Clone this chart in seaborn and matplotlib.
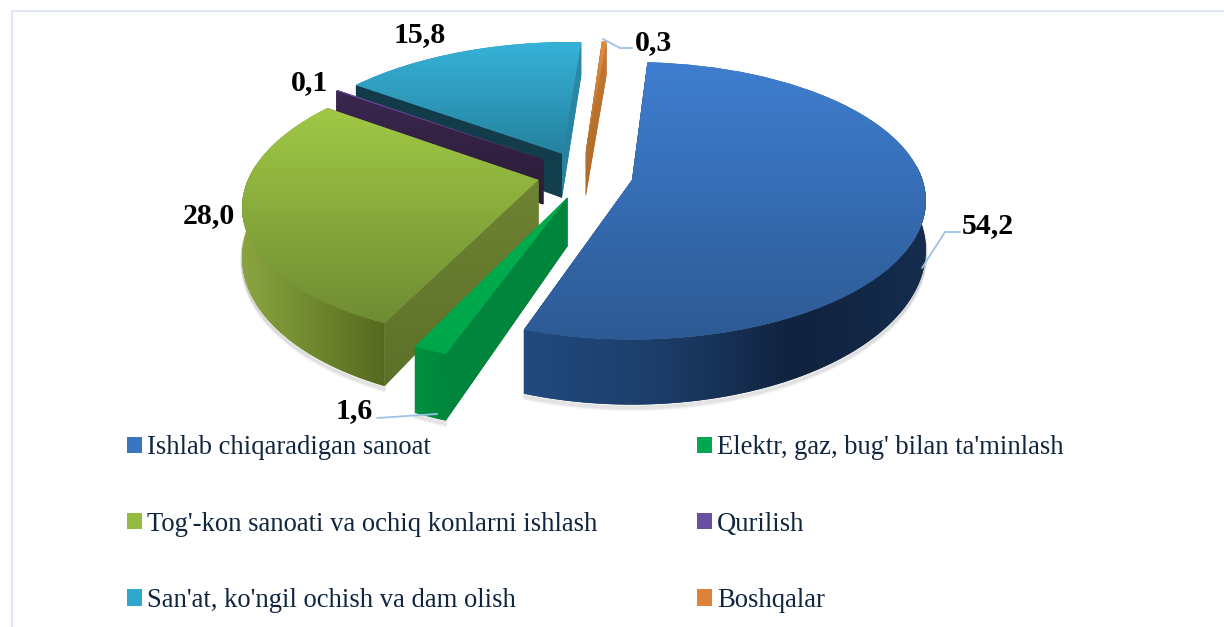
import numpy as np
import matplotlib
matplotlib.use("Agg")
import matplotlib.pyplot as plt
import seaborn as sns
from matplotlib.patches import Patch, PathPatch
from matplotlib.path import Path
from matplotlib.transforms import Transform

# ---- data
categories = ["Ishlab chiqaradigan sanoat", "Elektr, gaz, bug' bilan ta'minlash",
              "Tog'-kon sanoati va ochiq konlarni ishlash", "Qurilish",
              "San'at, ko'ngil ochish va dam olish", "Boshqalar"]
shares = [54.2, 1.6, 28.0, 0.1, 15.8, 0.3]

# ---- styling
top_colors = [("#3F7ED0", "#2D5A94"), ("#00AE4F", "#00A64B"), ("#A0C845", "#6F8C33"),
              ("#6A4FA0", "#6A4FA0"), ("#36B2D8", "#25829F"), ("#E38A3E", "#B8702E")]
legend_colors = ["#3A75C0", "#00A850", "#93BB42", "#6A4FA0", "#2FA6CB", "#DD8238"]
arc_colors = [["#214A7E", "#1C3D69", "#10233F", "#152C4D"], ["#00923F", "#00863D"],
              ["#8AA53F", "#70882F", "#56691F"], ["#2F1F3C", "#2F1F3C"],
              ["#2A88A8", "#1F6F8A"], ["#C07530", "#B06A2A"]]
# colours of the two cut faces of each slice: lower-angle edge, higher-angle edge
face_low = [("#214A7E", "#214A7E"), ("#00853D", "#00853C"), ("#6E8433", "#6E8433"),
            ("#3A2750", "#2B1C36"), ("#2C8AAA", "#26809E"), ("#C27833", "#B06A2A")]
face_high = [("#214A7E", "#214A7E"), ("#00853D", "#00853C"), ("#6E8433", "#5C7028"),
             ("#3A2750", "#2B1C36"), ("#123A48", "#14404F"), ("#C27833", "#B06A2A")]
offsets = [(0, 0), (-65, -38), (-96, 0), (-93, 46), (-74, 60), (-49, 62)]
label_pos = [(988, 226), (354, 411), (209, 216), (310, 83), (420, 35), (654, 43)]
leaders = {0: [(922, 268), (945, 232), (960, 232)],
           1: [(437, 414), (377, 418)],
           5: [(603, 39), (620, 48), (632, 48)]}
draw_order = [5, 4, 3, 2, 1, 0]
R, K, P, S, DEPTH = 298.0, 0.455, 0.15, 0.975, 47.0
X0, Y0 = 632.0, 180.0

sns.set_theme(style="white")
plt.rcParams["font.family"] = ["Liberation Serif", "DejaVu Serif"]

fig = plt.figure(figsize=(12.24, 6.27), dpi=100)
ax = fig.add_axes([0, 0, 1, 1])


class Persp(Transform):
    input_dims = output_dims = 2

    def transform_non_affine(self, uv):
        uv = np.asarray(uv, float).reshape(-1, 2)
        den = 1 + P * uv[:, 1] / R
        return np.column_stack((X0 + S * uv[:, 0] / den, Y0 - K * uv[:, 1] / den))


persp = Persp()


def page(uv):
    return persp.transform_non_affine(uv)


def depth_of(uv):
    den = 1 + P * np.asarray(uv)[:, 1] / R
    return DEPTH / den ** 2


def shade(patch, pts, colors, z, horizontal):
    cmap = sns.blend_palette(list(colors), n_colors=128, as_cmap=True)
    grad = np.linspace(0, 1, 128)
    grad = grad[None, :] if horizontal else grad[:, None]
    x0, y0 = pts.min(axis=0)
    x1, y1 = pts.max(axis=0)
    im = ax.imshow(grad, cmap=cmap, extent=(x0, x1, y1, y0), aspect="auto",
                   interpolation="bilinear", zorder=z + 0.1)
    im.set_clip_path(patch)


def fill(pts, colors, z, horizontal=False):
    pts = np.asarray(pts)
    patch = PathPatch(Path(np.vstack((pts, pts[:1])), closed=True),
                      fc=colors[len(colors) // 2], ec="none", lw=0,
                      transform=ax.transData, zorder=z)
    ax.add_patch(patch)
    shade(patch, pts, colors, z, horizontal)


wedges, _ = ax.pie(shares, startangle=86.5, counterclock=False, radius=R, center=(0, 0),
                   colors=[c[1] for c in top_colors],
                   wedgeprops={"linewidth": 0, "edgecolor": "none"})
ax.set_aspect("auto")
ax.autoscale(False)

for rank, i in enumerate(draw_order):
    w = wedges[i]
    w.set_center(offsets[i])
    w.set_transform(persp + ax.transData)
    base = 10 + rank * 2
    cx, cy = offsets[i]
    th = np.radians(np.linspace(w.theta1, w.theta2, 120))
    arc = np.column_stack((cx + R * np.cos(th), cy + R * np.sin(th)))
    apex = np.array([[cx, cy]])
    arc_top = page(arc)
    arc_bot = arc_top + np.column_stack((np.zeros(len(arc)), depth_of(arc)))
    apex_top = page(apex)
    apex_bot = apex_top + np.array([[0, depth_of(apex)[0]]])

    # only the part of the outer wall that faces the viewer
    front = np.sin(th) < 0.12

    # soft shadow beneath the solid
    if front.any():
        for off in range(1, 6):
            ax.plot(arc_bot[front, 0], arc_bot[front, 1] + off, color="k", alpha=0.045, lw=2,
                    zorder=base - 0.5, solid_capstyle="round")

    # cut faces
    fill([apex_top[0], arc_top[0], arc_bot[0], apex_bot[0]], face_low[i], base + 0.2)
    fill([apex_top[0], arc_top[-1], arc_bot[-1], apex_bot[0]], face_high[i], base + 0.2)
    # outer wall
    if front.any():
        fill(np.vstack((arc_top[front], arc_bot[front][::-1])), arc_colors[i], base + 0.4,
             horizontal=True)
    # top surface
    w.set_zorder(base + 0.8)
    shade(w, page(np.vstack((apex, arc))), top_colors[i], base + 0.8, False)

# value labels and leader lines
for i, (x, y) in enumerate(label_pos):
    ax.text(x, y, f"{shares[i]:.1f}".replace(".", ","), ha="center", va="center",
            fontsize=21.5, fontweight="bold", color="black", zorder=40)
for pts in leaders.values():
    pts = np.array(pts)
    ax.plot(pts[:, 0], pts[:, 1], color="#9DC3E6", lw=1.3, zorder=39)

# chart frame
ax.plot([12, 12, 1224], [627, 11, 11], color="#D9E2F3", lw=1.2, zorder=1)

# legend, filled by column so that it reads row by row
order = [0, 2, 4, 1, 3, 5]
handles = [Patch(facecolor=legend_colors[i], edgecolor="none", linewidth=0, label=categories[i])
           for i in order]
fs = 19.2
px = fs / 0.72
ax.legend(handles=handles, ncol=2, frameon=False, loc="upper left",
          bbox_to_anchor=(127 / 1224, 1 - 435.5 / 627), borderpad=0, borderaxespad=0,
          prop={"size": fs}, labelcolor="#10253F",
          handlelength=15 / px, handleheight=15 / px, handletextpad=5 / px,
          labelspacing=1.918, columnspacing=3.74)

ax.set_xlim(0, 1224)
ax.set_ylim(627, 0)
ax.axis("off")
fig.savefig("out.png", dpi=100)
